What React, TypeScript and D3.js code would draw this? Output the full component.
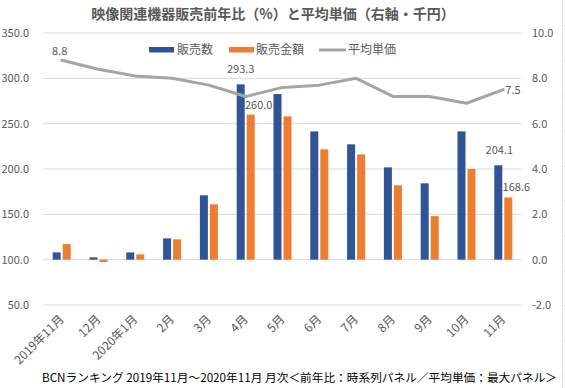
import React from "react";
import * as d3 from "d3";

const categories = ["2019年11月", "12月", "2020年1月", "2月", "3月", "4月", "5月", "6月", "7月", "8月", "9月", "10月", "11月"];
const unitsYoY = [108.0, 102.5, 108.0, 123.5, 171.0, 293.3, 282.7, 241.5, 227.2, 201.8, 184.2, 241.5, 204.1];
const salesYoY = [117.2, 97.4, 105.8, 122.4, 161.0, 260.0, 258.0, 221.7, 216.1, 182.0, 148.0, 200.0, 168.6];
const avgPrice = [8.8, 8.4, 8.1, 8.0, 7.7, 7.2, 7.6, 7.7, 8.0, 7.2, 7.2, 6.9, 7.5];
const leftTicks = [50, 100, 150, 200, 250, 300, 350];
const rightTicks = [-2, 0, 2, 4, 6, 8, 10];
const seriesNames = ["販売数", "販売金額", "平均単価"];
const title = "映像関連機器販売前年比（%）と平均単価（右軸・千円）";
const footnote = "BCNランキング 2019年11月～2020年11月 月次＜前年比：時系列パネル／平均単価：最大パネル＞";

const W = 565, H = 388;
const plotL = 43.3, plotR = 521.7, plotT = 33, plotB = 305;
const BLUE = "#2F5597", ORANGE = "#ED7D31", GRAY = "#A5A5A5", TXT = "#595959", GRID = "#D9D9D9";
const FONT = "'Noto Sans CJK JP', 'Noto Sans', sans-serif";

export default function App() {
  const yL = d3.scaleLinear().domain([50, 350]).range([plotB, plotT]);
  const yR = d3.scaleLinear().domain([-2, 10]).range([plotB, plotT]);
  const x = d3.scaleBand<string>().domain(categories).range([plotL, plotR]).paddingInner(0.51).paddingOuter(0.255);
  const xs = d3.scaleBand<string>().domain(seriesNames.slice(0, 2)).range([0, x.bandwidth()]).paddingInner(0.2);
  const cx = (c: string) => (x(c) as number) + x.bandwidth() / 2;
  const line = d3.line<number>().x((_, i) => cx(categories[i])).y((d) => yR(d));
  const base = yL(100);

  const bars = [
    { name: seriesNames[0], vals: unitsYoY, color: BLUE },
    { name: seriesNames[1], vals: salesYoY, color: ORANGE },
  ];

  const last = categories.length - 1;
  const xb = (name: string, i: number) => (x(categories[i]) as number) + (xs(name) as number) + xs.bandwidth() / 2;

  return (
    <svg width={W} height={H} style={{ position: "absolute", left: 0, top: 0, background: "#fff" }} fontFamily={FONT}>
      <rect x={0} y={0} width={W} height={H} fill="#fff" />
      <line x1={562.5} x2={562.5} y1={0} y2={H} stroke="#E3E3E3" />
      {d3.range(26, H, 35).map((y) => (
        <line key={y} x1={562.5} x2={565} y1={y} y2={y} stroke="#E3E3E3" />
      ))}
      <text x={273} y={19} textAnchor="middle" fontSize={14} fontWeight="bold" fill={TXT}>{title}</text>
      {leftTicks.map((t) => (
        <g key={t}>
          <line x1={plotL} x2={plotR} y1={yL(t)} y2={yL(t)} stroke={GRID} strokeWidth={1} />
          <text x={29} y={yL(t)} dy="0.35em" textAnchor="end" fontSize={11} fill={TXT}>{t.toFixed(1)}</text>
        </g>
      ))}
      {rightTicks.map((t) => (
        <text key={t} x={532} y={yR(t)} dy="0.35em" textAnchor="start" fontSize={11} fill={TXT}>{t.toFixed(1)}</text>
      ))}
      {bars.map((s) =>
        s.vals.map((v, i) => (
          <rect
            key={s.name + i}
            x={(x(categories[i]) as number) + (xs(s.name) as number)}
            width={xs.bandwidth()}
            y={Math.min(yL(v), base)}
            height={Math.abs(base - yL(v))}
            fill={s.color}
          />
        ))
      )}
      <path d={line(avgPrice) as string} fill="none" stroke={GRAY} strokeWidth={3} strokeLinejoin="round" strokeLinecap="round" />
      <text x={cx(categories[0]) - 2} y={55} fontSize={11} fill={TXT} textAnchor="middle">{avgPrice[0].toFixed(1)}</text>
      <text x={cx(categories[last]) + 2} y={yR(avgPrice[last])} dy="0.35em" fontSize={11} fill={TXT}>{avgPrice[last].toFixed(1)}</text>
      <text x={xb(seriesNames[0], 5)} y={yL(unitsYoY[5]) - 11} fontSize={11} fill={TXT} textAnchor="middle">{unitsYoY[5].toFixed(1)}</text>
      <text x={xb(seriesNames[1], 5) + 8} y={yL(salesYoY[5]) - 6} fontSize={11} fill={TXT} textAnchor="middle">{salesYoY[5].toFixed(1)}</text>
      <text x={xb(seriesNames[0], last) + 1} y={yL(unitsYoY[last]) - 11} fontSize={11} fill={TXT} textAnchor="middle">{unitsYoY[last].toFixed(1)}</text>
      <text x={xb(seriesNames[1], last) + 8} y={yL(salesYoY[last]) - 6} fontSize={11} fill={TXT} textAnchor="middle">{salesYoY[last].toFixed(1)}</text>
      {categories.map((c) => (
        <text key={c} transform={`translate(${cx(c) + 3},${320}) rotate(-45)`} textAnchor="end" fontSize={12} fill={TXT}>{c}</text>
      ))}
      <rect x={149} y={47} width={25} height={5.5} fill={BLUE} />
      <text x={177} y={50} dy="0.35em" fontSize={12} fill={TXT}>{seriesNames[0]}</text>
      <rect x={229} y={47} width={25} height={5.5} fill={ORANGE} />
      <text x={256} y={50} dy="0.35em" fontSize={12} fill={TXT}>{seriesNames[1]}</text>
      <line x1={319} x2={346} y1={50} y2={50} stroke={GRAY} strokeWidth={3} />
      <text x={348} y={50} dy="0.35em" fontSize={12} fill={TXT}>{seriesNames[2]}</text>
      <text x={42} y={382} fontSize={11.5} fill="#000" textLength={515} lengthAdjust="spacingAndGlyphs">{footnote}</text>
    </svg>
  );
}
